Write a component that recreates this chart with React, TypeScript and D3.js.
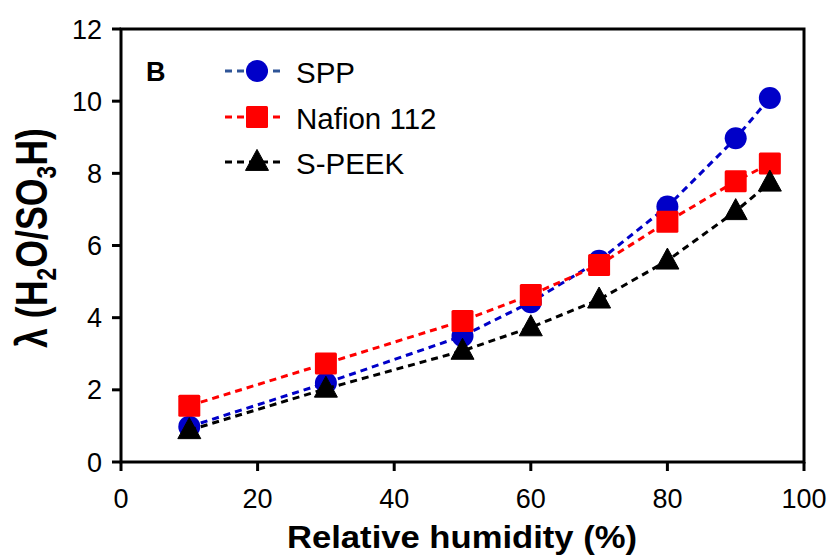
import React, { useLayoutEffect, useRef, useState } from "react";
import * as d3 from "d3";

const humidity = [10, 30, 50, 60, 70, 80, 90, 95];
const sppValues = [0.98, 2.19, 3.49, 4.43, 5.58, 7.08, 8.97, 10.09];
const nafionValues = [1.56, 2.73, 3.91, 4.63, 5.46, 6.66, 7.78, 8.27];
const speekValues = [0.88, 2.03, 3.08, 3.73, 4.5, 5.58, 6.95, 7.74];
const xTicks = [0, 20, 40, 60, 80, 100];
const yTicks = [0, 2, 4, 6, 8, 10, 12];

const seriesNames = ["SPP", "Nafion 112", "S-PEEK"];
const seriesColors = ["#0000C8", "#FF0000", "#000000"];
const legendLineColors = ["#2F5597", "#FF0000", "#000000"];
const seriesShapes = ["circle", "square", "triangle"];
const seriesData = [sppValues, nafionValues, speekValues];

const W = 836;
const H = 559;
const left = 121;
const right = 804;
const top = 29;
const bottom = 462;
const FONT = "'Liberation Sans', Arial, sans-serif";

function Marker({ shape, x, y, color }: { shape: string; x: number; y: number; color: string }) {
  if (shape === "circle") return <circle cx={x} cy={y} r={11} fill={color} />;
  if (shape === "square")
    return <rect x={x - 11} y={y - 11} width={22} height={22} rx={1.5} fill={color} />;
  const s = 23;
  const h = 21;
  return (
    <path
      d={`M${x},${y - h * 0.6}L${x + s / 2},${y + h * 0.4}L${x - s / 2},${y + h * 0.4}Z`}
      fill={color}
      stroke={color}
      strokeWidth={1}
      strokeLinejoin="round"
    />
  );
}

export default function App() {
  const x = d3.scaleLinear().domain([0, 100]).range([left, right]);
  const y = d3.scaleLinear().domain([0, 12]).range([bottom, top]);
  const line = d3
    .line<[number, number]>()
    .x((d) => x(d[0]))
    .y((d) => y(d[1]));

  const legendY = [71, 117, 162];
  const yTitleRef = useRef<SVGTextElement>(null);
  const [yScale, setYScale] = useState(1);
  useLayoutEffect(() => {
    if (yTitleRef.current) {
      const w = yTitleRef.current.getComputedTextLength();
      if (w > 0) setYScale(220 / w);
    }
  }, []);

  return (
    <svg width={W} height={H} style={{ display: "block", position: "absolute", left: 0, top: 0 }} fontFamily={FONT}>
      <rect width={W} height={H} fill="#fff" />
      {/* frame */}
      <rect x={left} y={top} width={right - left} height={bottom - top} fill="none" stroke="#000" strokeWidth={3} />
      {/* y ticks */}
      {yTicks.map((t) => (
        <g key={"y" + t}>
          <line x1={left - 9} x2={left} y1={y(t)} y2={y(t)} stroke="#000" strokeWidth={3} />
          <text x={left - 19} y={y(t) + 9.5} textAnchor="end" fontSize={27} fill="#000">
            {t}
          </text>
        </g>
      ))}
      {/* x ticks */}
      {xTicks.map((t) => (
        <g key={"x" + t}>
          <line x1={x(t)} x2={x(t)} y1={bottom} y2={bottom + 9} stroke="#000" strokeWidth={3} />
          <text x={x(t)} y={508} textAnchor="middle" fontSize={27} fill="#000">
            {t}
          </text>
        </g>
      ))}
      {/* series */}
      {seriesData.map((vals, i) => {
        const pts: [number, number][] = humidity.map((h, j) => [h, vals[j]]);
        return (
          <g key={"s" + i}>
            <path d={line(pts) || ""} fill="none" stroke={seriesColors[i]} strokeWidth={3} strokeDasharray="7,5" />
            {pts.map((p, j) => (
              <Marker key={j} shape={seriesShapes[i]} x={x(p[0])} y={y(p[1])} color={seriesColors[i]} />
            ))}
          </g>
        );
      })}
      {/* panel label */}
      <text x={146} y={81} fontSize={27} fontWeight="bold" fill="#000">
        B
      </text>
      {/* legend */}
      {seriesNames.map((n, i) => (
        <g key={"l" + i}>
          <line x1={225} x2={283} y1={legendY[i]} y2={legendY[i]} stroke={legendLineColors[i]} strokeWidth={3} strokeDasharray="7,5" />
          <Marker shape={seriesShapes[i]} x={257} y={legendY[i]} color={seriesColors[i]} />
          <text x={296} y={legendY[i] + 12} fontSize={29.5} fill="#000">
            {n}
          </text>
        </g>
      ))}
      {/* axis titles */}
      <text
        x={462}
        y={548}
        textAnchor="middle"
        fontSize={32}
        fontWeight="bold"
        fill="#000"
        textLength={350}
        lengthAdjust="spacingAndGlyphs"
      >
        Relative humidity (%)
      </text>
      <g transform={`translate(47,238) rotate(-90) scale(${yScale},1)`}>
        <text ref={yTitleRef} textAnchor="middle" fontSize={44} fontWeight="bold" fill="#000">
          <tspan>λ</tspan>
          <tspan> (H</tspan>
          <tspan fontSize={28} dy={9}>2</tspan>
          <tspan dy={-9}>O/SO</tspan>
          <tspan fontSize={28} dy={9}>3</tspan>
          <tspan dy={-9}>H)</tspan>
        </text>
      </g>
    </svg>
  );
}
